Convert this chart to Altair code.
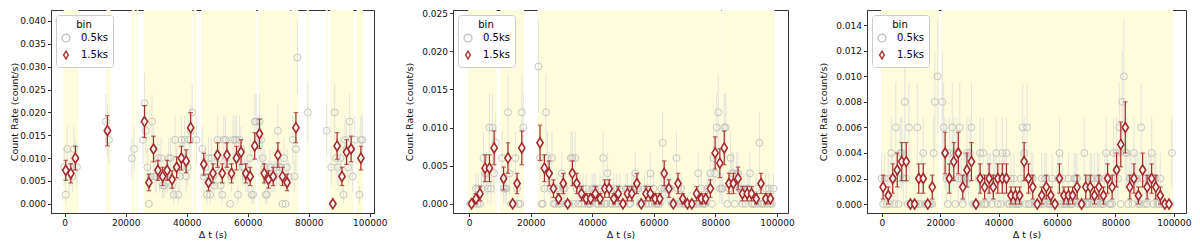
import altair as alt
import pandas as pd

# ---------------- shared ticks / styles ----------------
XTICKS = [0, 20000, 40000, 60000, 80000, 100000]
P1_YTICKS = [0.0, 0.005, 0.01, 0.015, 0.02, 0.025, 0.03, 0.035, 0.04]
P2_YTICKS = [0.0, 0.005, 0.01, 0.015, 0.02, 0.025]
P3_YTICKS = [0.0, 0.002, 0.004, 0.006, 0.008, 0.01, 0.012, 0.014]
BINS = ["0.5ks", "1.5ks"]

# half-length of the grey (0.5 ks) error bars per rate level (rate in 1e-3 count/s)
GREY_ERR = {0: 0.0, 2: 0.002, 4: 0.0028, 6: 0.0035, 8: 0.004, 10: 0.0045, 12: 0.0049,
            14: 0.0053, 16: 0.0057, 18: 0.006, 20: 0.0063, 22: 0.0066, 32: 0.008}

# ---------------- panel 1 ----------------
P1_GTI_START = [-400, 13700, 22000, 23600, 25900, 42300, 44800, 63400, 74300, 79300, 85600, 87000, 95700]
P1_GTI_END = [4500, 15000, 23000, 24100, 41900, 43200, 62800, 74000, 76600, 80000, 86200, 94700, 97800]

P1_GREY_T = [-170, 330, 830, 1500, 2000, 2500, 3000, 3500, 4000,
             13500, 14000, 14500, 22000, 22750,
             25650, 26150, 26650, 27100, 27600, 28100, 28600, 29100, 29600,
             30050, 30550, 31050, 31600, 32100, 32600, 33100, 33600, 34100,
             34700, 35200, 35700, 36200, 36700, 37200, 37750, 38250, 38750,
             39300, 39800, 40300, 40800, 41300, 41800, 43190,
             45100, 45600, 46100, 46650, 47150, 47650, 48100, 48600, 49100,
             49600, 50100, 50600, 51150, 51650, 52150, 52700, 53200, 53700,
             54200, 54700, 55200, 55800, 56300, 56800, 57300, 57800, 58300,
             58850, 59350, 59850, 60300, 60800, 61300, 61800, 62300, 62800,
             63350, 63850, 64350, 64900, 65400, 65900, 66300, 66800, 67300,
             67850, 68350, 68850, 69400, 69900, 70400, 70900, 71400, 71900,
             72400, 72900, 73400, 74800, 75300, 75800, 76300, 79700, 85900,
             87400, 87900, 88500, 89000, 89500, 90400, 90900, 91400,
             91900, 92400, 92900, 93400, 93900, 94400, 95100, 96600, 97100, 97600]
P1_GREY_V = [0.008, 0.002, 0.012, 0.006, 0.008, 0.006, 0.012, 0.010, 0.008,
             0.018, 0.016, 0.014, 0.010, 0.012,
             0.014, 0.022, 0.016, 0.008, 0.0, 0.006, 0.018, 0.012, 0.006,
             0.006, 0.010, 0.006, 0.010, 0.004, 0.004, 0.006, 0.006, 0.010,
             0.010, 0.004, 0.002, 0.014, 0.008, 0.002, 0.006, 0.014, 0.010,
             0.014, 0.006, 0.008, 0.014, 0.016, 0.020, 0.014,
             0.012, 0.006, 0.008, 0.002, 0.010, 0.002, 0.010, 0.006, 0.004,
             0.008, 0.014, 0.010, 0.004, 0.002, 0.014, 0.014, 0.010, 0.008,
             0.0, 0.006, 0.014, 0.014, 0.014, 0.002, 0.014, 0.012, 0.008,
             0.008, 0.006, 0.006, 0.006, 0.010, 0.002, 0.002, 0.018, 0.018,
             0.014, 0.018, 0.014, 0.010, 0.008, 0.002, 0.002, 0.006, 0.008,
             0.006, 0.006, 0.006, 0.008, 0.016, 0.008, 0.008, 0.0, 0.010,
             0.0, 0.008, 0.006, 0.014, 0.006, 0.012, 0.032, 0.020, 0.016,
             0.008, 0.0, 0.020, 0.010, 0.008, 0.010, 0.006, 0.002,
             0.014, 0.012, 0.008, 0.018, 0.012, 0.006, 0.014, 0.002, 0.014, 0.014]

P1_RED_T = [330, 2000, 3500, 14000, 26150, 27600, 29100, 30550, 32100, 33600, 35200,
            36700, 38250, 39800, 41300, 45600, 47150, 48600, 50100, 51650, 53200, 54700,
            56300, 57800, 59350, 60800, 62300, 63850, 65400, 66800, 68350, 69900, 71400,
            72900, 75800, 87900, 89300, 90900, 92400, 93900, 97100]
P1_RED_V = [0.00733, 0.00667, 0.01, 0.016, 0.018, 0.00467, 0.012, 0.00733, 0.006, 0.00733, 0.00533,
            0.008, 0.01, 0.00933, 0.01667, 0.00867, 0.00467, 0.00667, 0.01067, 0.00667, 0.01067, 0.00667,
            0.01, 0.01133, 0.00667, 0.006, 0.01267, 0.01533, 0.00667, 0.00533, 0.006, 0.01067, 0.006,
            0.00467, 0.01667, 0.0, 0.01267, 0.006, 0.01133, 0.012, 0.01]
P1_RED_E = [0.0022, 0.0021, 0.0026, 0.0033, 0.0035, 0.0018, 0.0028, 0.0022, 0.0020, 0.0022, 0.0019,
            0.0023, 0.0026, 0.0025, 0.0033, 0.0024, 0.0018, 0.0021, 0.0027, 0.0021, 0.0027, 0.0021,
            0.0026, 0.0027, 0.0021, 0.0020, 0.0029, 0.0032, 0.0021, 0.0019, 0.0020, 0.0027, 0.0020,
            0.0018, 0.0033, 0.0, 0.0029, 0.0020, 0.0027, 0.0028, 0.0026]

# ---------------- panel 2 ----------------
P2_GTI_START = [-300, 10100, 22200, 82150]
P2_GTI_END = [8900, 17800, 81980, 99200]

P2_GREY_T = [270, 770, 1270, 1690, 2190, 2690, 3000, 3500, 4000, 4650, 5150, 5650,
             6080, 6580, 7080, 7610, 8110, 8610, 10680, 11180, 11680, 12100, 12600, 13100,
             13640, 14140, 14640, 15060, 15560, 16060, 16600, 17100, 17600,
             22520, 23020, 23520, 23940, 24440, 24940, 25470, 25970, 26470,
             26900, 27400, 27900, 28540, 29040, 29540, 30080, 30580, 31080,
             31500, 32000, 32500, 33040, 33540, 34040, 34460, 34960, 35460,
             36000, 36500, 37000, 37530, 38030, 38530, 38960, 39460, 39960,
             40490, 40990, 41490, 42020, 42520, 43020, 43560, 44060, 44560,
             44980, 45480, 45980, 46520, 47020, 47520, 47940, 48440, 48940,
             49480, 49980, 50480, 50920, 51420, 51920, 52350, 52850, 53350,
             53990, 54490, 54990, 55420, 55920, 56420, 56950, 57450, 57950,
             58370, 58870, 59370, 59910, 60410, 60910, 61440, 61940, 62440,
             62870, 63370, 63870, 64400, 64900, 65400, 65830, 66330, 66830,
             67360, 67860, 68360, 68900, 69400, 69900, 70430, 70930, 71430,
             71860, 72360, 72860, 73390, 73890, 74390, 74920, 75420, 75920,
             76350, 76850, 77350, 77880, 78380, 78880, 79420, 79920, 80420,
             80950, 81450, 81950, 82380, 82880, 83380, 83910, 84410, 84910,
             85340, 85840, 86340, 86870, 87370, 87870, 88300, 88800, 89300,
             89830, 90330, 90830, 91250, 91750, 92250, 92790, 93290, 93790,
             94320, 94820, 95320, 95860, 96360, 96860, 97390, 97890, 98390, 98900]
P2_GREY_V = [0.0, 0.0, 0.0, 0.0, 0.002, 0.0, 0.002, 0.0, 0.002, 0.006, 0.004, 0.004,
             0.002, 0.010, 0.002, 0.010, 0.004, 0.008, 0.006, 0.002, 0.002, 0.002, 0.012, 0.004,
             0.0, 0.0, 0.0, 0.006, 0.002, 0.0, 0.0, 0.012, 0.010,
             0.018, 0.006, 0.0, 0.0, 0.002, 0.012, 0.006, 0.004, 0.002,
             0.006, 0.0, 0.0, 0.002, 0.0, 0.0, 0.004, 0.002, 0.002,
             0.0, 0.0, 0.0, 0.006, 0.006, 0.0, 0.006, 0.002, 0.0,
             0.002, 0.0, 0.002, 0.0, 0.002, 0.0, 0.0, 0.0, 0.002,
             0.002, 0.002, 0.0, 0.0, 0.002, 0.0, 0.006, 0.0, 0.0,
             0.004, 0.002, 0.0, 0.0, 0.002, 0.0, 0.002, 0.0, 0.002,
             0.0, 0.0, 0.0, 0.002, 0.002, 0.0, 0.0, 0.002, 0.002,
             0.004, 0.002, 0.002, 0.0, 0.0, 0.0, 0.002, 0.0, 0.002,
             0.0, 0.004, 0.0, 0.002, 0.0, 0.0, 0.0, 0.0, 0.002,
             0.008, 0.002, 0.002, 0.002, 0.002, 0.002, 0.0, 0.0, 0.0,
             0.006, 0.002, 0.0, 0.002, 0.0, 0.0, 0.0, 0.0, 0.0,
             0.0, 0.0, 0.0, 0.0, 0.0, 0.004, 0.0, 0.002, 0.0,
             0.0, 0.0, 0.002, 0.002, 0.004, 0.0, 0.006, 0.004, 0.010,
             0.012, 0.002, 0.002, 0.002, 0.010, 0.010, 0.0, 0.002, 0.006,
             0.004, 0.004, 0.0, 0.004, 0.004, 0.002, 0.002, 0.0, 0.002,
             0.0, 0.002, 0.002, 0.004, 0.0, 0.0, 0.0, 0.002, 0.0,
             0.008, 0.0, 0.0, 0.0, 0.002, 0.0, 0.002, 0.0, 0.0, 0.002]

P2_RED_T = [770, 2190, 3500, 5150, 6580, 8110, 11180, 12600, 14140, 15560, 17100,
            23020, 24440, 25970, 27400, 29040, 30580, 32000, 33540, 34960, 36500, 38030,
            39460, 40990, 42520, 44060, 45480, 47020, 48440, 49980, 51420, 52850, 54490,
            55920, 57450, 58870, 60410, 61940, 63370, 64900, 66330, 67860, 69400, 70930,
            72360, 73890, 75420, 76850, 78380, 79920, 81450, 82880, 84410, 85840, 87370,
            88800, 90330, 91750, 93290, 94820, 96360, 97890]
P2_RED_V = [0.0, 0.00067, 0.00133, 0.00467, 0.00467, 0.00733, 0.00333, 0.006, 0.0, 0.00267, 0.00733,
            0.008, 0.00467, 0.004, 0.002, 0.00067, 0.00267, 0.0, 0.004, 0.00267, 0.00133, 0.00067,
            0.00067, 0.00133, 0.00067, 0.002, 0.002, 0.00067, 0.00133, 0.0, 0.00133, 0.00133, 0.00267,
            0.0, 0.00133, 0.00133, 0.00067, 0.00067, 0.004, 0.002, 0.0, 0.00267, 0.00067, 0.0,
            0.0, 0.00133, 0.00067, 0.00067, 0.002, 0.00667, 0.00533, 0.00733, 0.00267, 0.00267, 0.00333,
            0.00133, 0.00133, 0.00133, 0.00067, 0.00267, 0.00067, 0.00067]
P2_RED_E = [0.0, 0.00067, 0.00094, 0.00176, 0.00176, 0.00221, 0.00149, 0.002, 0.0, 0.00133, 0.00221,
            0.00231, 0.00176, 0.00163, 0.00115, 0.00067, 0.00133, 0.0, 0.00163, 0.00133, 0.00094, 0.00067,
            0.00067, 0.00094, 0.00067, 0.00115, 0.00115, 0.00067, 0.00094, 0.0, 0.00094, 0.00094, 0.00133,
            0.0, 0.00094, 0.00094, 0.00067, 0.00067, 0.00163, 0.00115, 0.0, 0.00133, 0.00067, 0.0,
            0.0, 0.00094, 0.00067, 0.00067, 0.00115, 0.00211, 0.00189, 0.00221, 0.00133, 0.00133, 0.00149,
            0.00094, 0.00094, 0.00094, 0.00067, 0.00133, 0.00067, 0.00067]

# ---------------- panel 3 ----------------
P3_GTI_START = [-300, 20400]
P3_GTI_END = [19550, 99700]

P3_GREY_T = [-60, 440, 940, 1700, 2200, 2700, 3240, 3740, 4240, 4780, 5280, 5780,
             6320, 6820, 7320, 7860, 8360, 8860, 9290, 9790, 10290, 10720, 11220, 11720,
             12150, 12650, 13150, 13690, 14190, 14690, 15230, 15730, 16230, 16770, 17270, 17770,
             18150, 19140, 20700,
             21170, 21670, 22170, 22600, 23100, 23600, 24140, 24640, 25140,
             25680, 26180, 26680, 27220, 27720, 28220, 28650, 29150, 29650,
             30190, 30690, 31190, 31730, 32230, 32730, 33160, 33660, 34160,
             34700, 35200, 35700, 36240, 36740, 37240, 37670, 38170, 38670,
             39210, 39710, 40210, 40750, 41250, 41750, 42180, 42680, 43180,
             43720, 44220, 44720, 45260, 45760, 46260, 46690, 47190, 47690,
             48230, 48730, 49230, 49720, 50220, 50720, 51190, 51690, 52190,
             52730, 53230, 53730, 54270, 54770, 55270, 55810, 56310, 56810,
             57350, 57850, 58350, 58780, 59280, 59780, 60320, 60820, 61320,
             61860, 62360, 62860, 63400, 63900, 64400, 64830, 65330, 65830,
             66370, 66870, 67370, 67910, 68410, 68910, 69340, 69840, 70340,
             70880, 71380, 71880, 72310, 72810, 73310, 73850, 74350, 74850,
             75390, 75890, 76390, 76820, 77320, 77820, 78360, 78860, 79360,
             79900, 80400, 80900, 81330, 81830, 82330, 82870, 83370, 83870,
             84410, 84910, 85410, 85840, 86340, 86840, 87380, 87880, 88380,
             88810, 89310, 89810, 90350, 90850, 91350, 91890, 92390, 92890,
             93320, 93820, 94320, 94860, 95360, 95860, 96400, 96900, 97400,
             97830, 98330, 98830, 99330]
P3_GREY_V = [0.002, 0.0, 0.002, 0.0, 0.002, 0.0, 0.004, 0.002, 0.0, 0.006, 0.002, 0.0,
             0.004, 0.004, 0.002, 0.008, 0.002, 0.0, 0.006, 0.0, 0.0, 0.0, 0.0, 0.0,
             0.006, 0.0, 0.0, 0.002, 0.004, 0.0, 0.0, 0.0, 0.0, 0.0, 0.0, 0.004,
             0.008, 0.010, 0.008,
             0.006, 0.004, 0.002, 0.0, 0.004, 0.002, 0.006, 0.004, 0.0,
             0.004, 0.002, 0.006, 0.002, 0.0, 0.002, 0.002, 0.004, 0.002,
             0.004, 0.006, 0.0, 0.0, 0.0, 0.0, 0.002, 0.004, 0.0,
             0.004, 0.0, 0.0, 0.002, 0.002, 0.002, 0.0, 0.002, 0.002,
             0.004, 0.0, 0.002, 0.0, 0.004, 0.002, 0.002, 0.004, 0.0,
             0.0, 0.002, 0.0, 0.002, 0.0, 0.0, 0.0, 0.0, 0.002,
             0.006, 0.004, 0.0, 0.006, 0.0, 0.0, 0.002, 0.002, 0.0,
             0.0, 0.0, 0.0, 0.0, 0.002, 0.0, 0.002, 0.002, 0.0,
             0.0, 0.0, 0.002, 0.0, 0.0, 0.0, 0.002, 0.004, 0.0,
             0.002, 0.0, 0.0, 0.0, 0.002, 0.0, 0.0, 0.0, 0.002,
             0.002, 0.002, 0.0, 0.0, 0.0, 0.0, 0.004, 0.0, 0.0,
             0.0, 0.002, 0.002, 0.0, 0.002, 0.0, 0.002, 0.002, 0.0,
             0.0, 0.0, 0.002, 0.004, 0.002, 0.0, 0.0, 0.0, 0.004,
             0.002, 0.004, 0.002, 0.006, 0.0, 0.008, 0.010, 0.004, 0.004,
             0.0, 0.002, 0.002, 0.0, 0.004, 0.002, 0.002, 0.0, 0.0,
             0.006, 0.002, 0.0, 0.002, 0.0, 0.002, 0.002, 0.004, 0.0,
             0.002, 0.002, 0.0, 0.0, 0.002, 0.0, 0.0, 0.0, 0.0,
             0.0, 0.0, 0.0, 0.004]

P3_RED_T = [440, 2200, 3740, 5280, 6820, 8360, 9790, 11220, 12650, 14190, 15730, 17270,
            21670, 23100, 24640, 26180, 27720, 29150, 30690, 32230, 33660, 35200, 36740, 38170,
            39710, 41250, 42680, 44220, 45760, 47190, 48730, 50220, 51690, 53230, 54770, 56310,
            57850, 59280, 60820, 62360, 63900, 65330, 66870, 68410, 69840, 71380, 72810, 74350,
            75890, 77320, 78860, 80400, 81830, 83370, 84910, 86340, 87880, 89310, 90850, 92390,
            93820, 95360, 96900, 98330]
P3_RED_V = [0.00133, 0.00067, 0.002, 0.00267, 0.00333, 0.00333, 0.0, 0.0, 0.002, 0.002, 0.0, 0.00133,
            0.004, 0.002, 0.00333, 0.004, 0.00133, 0.00267, 0.00333, 0.0, 0.002, 0.00133, 0.002, 0.00133,
            0.002, 0.002, 0.002, 0.00067, 0.00067, 0.00067, 0.00333, 0.002, 0.00133, 0.0, 0.00067, 0.00133,
            0.00067, 0.0, 0.002, 0.00067, 0.00067, 0.00067, 0.00133, 0.0, 0.00133, 0.00133, 0.00067, 0.00133,
            0.00067, 0.002, 0.00133, 0.00267, 0.00467, 0.006, 0.00133, 0.002, 0.00067, 0.00267, 0.00133, 0.002,
            0.00133, 0.00067, 0.0, 0.0]
P3_RED_E = [0.00094, 0.00067, 0.00115, 0.00133, 0.00149, 0.00149, 0.0, 0.0, 0.00115, 0.00115, 0.0, 0.00094,
            0.00163, 0.00115, 0.00149, 0.00163, 0.00094, 0.00133, 0.00149, 0.0, 0.00115, 0.00094, 0.00115, 0.00094,
            0.00115, 0.00115, 0.00115, 0.00067, 0.00067, 0.00067, 0.00149, 0.00115, 0.00094, 0.0, 0.00067, 0.00094,
            0.00067, 0.0, 0.00115, 0.00067, 0.00067, 0.00067, 0.00094, 0.0, 0.00094, 0.00094, 0.00067, 0.00094,
            0.00067, 0.00115, 0.00094, 0.00133, 0.00176, 0.002, 0.00094, 0.00115, 0.00067, 0.00133, 0.00094, 0.00115,
            0.00094, 0.00067, 0.0, 0.0]

# ---------------- styling ----------------
YELLOW = "#fdfcdb"
GREY = "#c2c2c2"
GREY_BAR = "#dedede"
RED = "#a52a2a"
DIAMOND = "M0,-1L0.62,0L0,1L-0.62,0Z"
HEIGHT = 203
FONT = "DejaVu Sans"


def panel(gs, ge, gt, gv, rt, rv, re, xdom, ydom, yticks, width, title_pad):
    gti = pd.DataFrame({"t": gs, "t2": ge})
    gerr = [GREY_ERR[int(round(v * 1000))] for v in gv]
    grey = pd.DataFrame({
        "t": gt, "v": gv,
        "lo": [v - e for v, e in zip(gv, gerr)],
        "hi": [v + e for v, e in zip(gv, gerr)],
        "bin": "0.5ks",
    })
    red = pd.DataFrame({
        "t": rt, "v": rv,
        "lo": [v - e for v, e in zip(rv, re)],
        "hi": [v + e for v, e in zip(rv, re)],
        "bin": "1.5ks",
    })
    xs = alt.Scale(domain=xdom, nice=False, zero=False)
    ys = alt.Scale(domain=ydom, nice=False, zero=False)
    xax = alt.Axis(values=XTICKS, format="d", title="Δ t (s)")
    yax = alt.Axis(values=yticks, format=".3f", title="Count Rate (count/s)",
                   titlePadding=title_pad, minExtent=31, maxExtent=31)
    X = alt.X("t:Q", scale=xs, axis=xax)

    def Y(f):
        return alt.Y(f, type="quantitative", scale=ys, axis=yax)

    leg = alt.Legend(title="bin", orient="top-left", offset=5, fillColor="white",
                     strokeColor="#cccccc", cornerRadius=3, padding=5,
                     titleAnchor="middle", titleFontWeight="normal", titleFontSize=10,
                     labelFontSize=10, symbolSize=60, symbolStrokeWidth=1.5,
                     symbolFillColor="white", rowPadding=3, labelOffset=10, titlePadding=3,
                     titleFont=FONT, labelFont=FONT)
    stroke = alt.Stroke("bin:N", scale=alt.Scale(domain=BINS, range=[GREY, RED]), legend=leg)
    shape = alt.Shape("bin:N", scale=alt.Scale(domain=BINS, range=["circle", DIAMOND]), legend=leg)

    shade = alt.Chart(gti).mark_rect(color=YELLOW).encode(x=X, x2="t2:Q")
    g_err = alt.Chart(grey).mark_rule(color=GREY_BAR, strokeWidth=1, opacity=0.8).encode(
        x=X, y=Y("lo"), y2="hi:Q")
    g_pts = alt.Chart(grey).mark_point(filled=False, size=48, strokeWidth=1, opacity=0.9).encode(
        x=X, y=Y("v"), stroke=stroke, shape=shape)
    r_err = alt.Chart(red).mark_rule(color=RED, strokeWidth=1.2).encode(
        x=X, y=Y("lo"), y2="hi:Q")
    r_lo = alt.Chart(red).mark_tick(color=RED, orient="horizontal", size=4.5, thickness=1.2).encode(
        x=X, y=Y("lo"))
    r_hi = alt.Chart(red).mark_tick(color=RED, orient="horizontal", size=4.5, thickness=1.2).encode(
        x=X, y=Y("hi"))
    r_pts = alt.Chart(red).mark_point(filled=True, fill="white", fillOpacity=0.9, size=100,
                                      strokeWidth=1.6, opacity=1).encode(
        x=X, y=Y("v"), stroke=stroke, shape=shape)
    return alt.layer(shade, g_err, g_pts, r_err, r_lo, r_hi, r_pts).properties(
        width=width, height=HEIGHT)


p1 = panel(P1_GTI_START, P1_GTI_END, P1_GREY_T, P1_GREY_V, P1_RED_T, P1_RED_V, P1_RED_E,
           [-4500, 101400], [-0.002, 0.0424], P1_YTICKS, 323, 1)
p2 = panel(P2_GTI_START, P2_GTI_END, P2_GREY_T, P2_GREY_V, P2_RED_T, P2_RED_V, P2_RED_E,
           [-5260, 103600], [-0.0012, 0.0254], P2_YTICKS, 335, 8)
p3 = panel(P3_GTI_START, P3_GTI_END, P3_GREY_T, P3_GREY_V, P3_RED_T, P3_RED_V, P3_RED_E,
           [-5080, 104160], [-0.0007, 0.0152], P3_YTICKS, 319, 8)

RES = dict(x="independent", y="independent", stroke="independent", shape="independent")
chart = (
    alt.hconcat(p1, p2, p3, spacing=79, bounds="flush")
    .resolve_scale(**RES)
    .properties(padding=0)
    .configure(font=FONT)
    .configure_view(stroke="#333333", strokeWidth=1)
    .configure_axis(grid=False, domainColor="#333333", tickColor="#333333",
                    labelFont=FONT, titleFont=FONT, labelFontSize=9, titleFontSize=9.5,
                    titleFontWeight="normal", labelColor="#111111", titleColor="#111111",
                    tickSize=3.5, labelPadding=2)
    .configure_axisX(titlePadding=2, labelPadding=1.5)
)

chart.save("out.html", embed_options={"renderer": "svg", "actions": False})
